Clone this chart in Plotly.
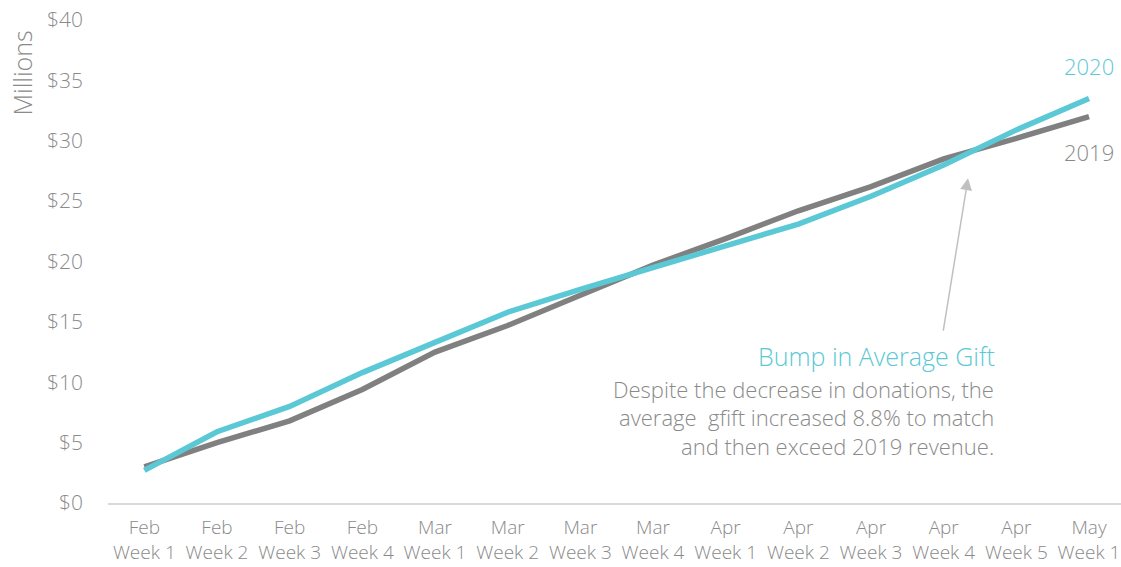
import plotly.graph_objects as go

categories = ["Feb<br>Week 1", "Feb<br>Week 2", "Feb<br>Week 3", "Feb<br>Week 4",
              "Mar<br>Week 1", "Mar<br>Week 2", "Mar<br>Week 3", "Mar<br>Week 4",
              "Apr<br>Week 1", "Apr<br>Week 2", "Apr<br>Week 3", "Apr<br>Week 4",
              "Apr<br>Week 5", "May<br>Week 1"]
rev_2019 = [3.0, 5.0, 6.8, 9.4, 12.5, 14.7, 17.2, 19.7, 21.9, 24.2, 26.2, 28.5, 30.2, 32.0]
rev_2020 = [2.7, 5.9, 8.0, 10.8, 13.3, 15.8, 17.7, 19.5, 21.3, 23.1, 25.4, 28.0, 30.9, 33.5]
y_ticks = [0, 5, 10, 15, 20, 25, 30, 35, 40]
y_tick_labels = ["$0", "$5", "$10", "$15", "$20", "$25", "$30", "$35", "$40"]

CYAN = "#5BC8D6"
GRAY_LINE = "#808080"
GRAY_TEXT = "#8a8a8a"
FONT = "Open Sans"

x_idx = list(range(len(categories)))

fig = go.Figure()
fig.add_trace(go.Scatter(x=x_idx, y=rev_2019, mode="lines", name="2019",
                         line=dict(color=GRAY_LINE, width=5.5), hoverinfo="skip"))
fig.add_trace(go.Scatter(x=x_idx, y=rev_2020, mode="lines", name="2020",
                         line=dict(color=CYAN, width=5.5), hoverinfo="skip"))

fig.update_layout(
    width=1121, height=567,
    margin=dict(l=108, r=0, t=20, b=64),
    plot_bgcolor="white", paper_bgcolor="white",
    showlegend=False,
    font=dict(family=FONT, color=GRAY_TEXT, size=20, weight=300),
    xaxis=dict(
        tickmode="array", tickvals=x_idx, ticktext=categories,
        range=[-0.5, 13.44], showgrid=False, zeroline=False,
        showline=True, linecolor="#d9d9d9", linewidth=2, ticks="",
        tickfont=dict(family=FONT, size=19, color=GRAY_TEXT, weight=300),
        ticklabelstandoff=6, automargin=False, ticklabeloverflow="allow",
    ),
    yaxis=dict(
        tickmode="array", tickvals=y_ticks, ticktext=y_tick_labels,
        range=[0, 40], showgrid=False, zeroline=False, showline=False,
        ticks="", tickfont=dict(family=FONT, size=21, color=GRAY_TEXT, weight=300),
        ticklabelstandoff=24, automargin=False,
    ),
)

anns = [
    dict(x=13, y=36.2, text="2020", font=dict(color=CYAN, size=22)),
    dict(x=13, y=29.1, text="2019", font=dict(color=GRAY_TEXT, size=22)),
    dict(x=11.73, y=12.2, text="Bump in Average Gift", xanchor="right",
         font=dict(color=CYAN, size=25)),
    dict(x=11.72, y=9.45, text="Despite the decrease in donations, the", xanchor="right",
         font=dict(color=GRAY_TEXT, size=22)),
    dict(x=11.72, y=7.1, text="average  gfift increased 8.8% to match", xanchor="right",
         font=dict(color=GRAY_TEXT, size=22)),
    dict(x=11.72, y=4.75, text="and then exceed 2019 revenue.", xanchor="right",
         font=dict(color=GRAY_TEXT, size=22)),
]
for a in anns:
    a.setdefault("xanchor", "center")
    fig.add_annotation(xref="x", yref="y", showarrow=False, yanchor="middle",
                       font_family=FONT, font_weight=300, **{k: v for k, v in a.items()})

# arrow
fig.add_annotation(xref="x", yref="y", x=11.335, y=26.9, text="",
                   showarrow=True, ax=-25, ay=154, arrowhead=2, arrowsize=1.6,
                   arrowwidth=1.5, arrowcolor="#c0c0c0", standoff=0)

# y-axis title
fig.add_annotation(xref="paper", yref="paper", x=-0.085, y=0.983, xanchor="center",
                   yanchor="top", text="Millions", textangle=-90, showarrow=False,
                   font=dict(family=FONT, size=25, color=GRAY_TEXT, weight=300))

fig.write_html("out.html")
